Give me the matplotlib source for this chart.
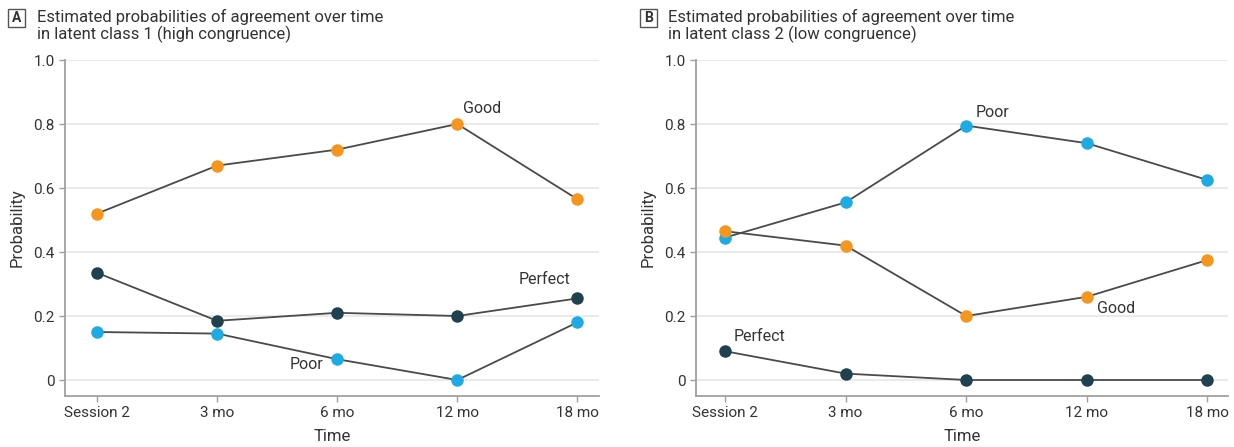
import matplotlib.pyplot as plt
from matplotlib.patches import Rectangle

plt.rcParams['font.family'] = ['Liberation Sans Narrow', 'Roboto', 'DejaVu Sans']

times = ['Session 2', '3 mo', '6 mo', '12 mo', '18 mo']

# class 1 (high congruence)
a_good = [0.52, 0.67, 0.72, 0.80, 0.565]
a_perfect = [0.335, 0.185, 0.21, 0.20, 0.255]
a_poor = [0.15, 0.145, 0.065, 0.0, 0.18]

# class 2 (low congruence)
b_poor = [0.445, 0.555, 0.795, 0.74, 0.625]
b_good = [0.465, 0.42, 0.20, 0.26, 0.375]
b_perfect = [0.09, 0.02, 0.0, 0.0, 0.0]

c_good = '#F5961F'
c_poor = '#1EAAE3'
c_perfect = '#1F4150'
line_c = '#4a4a4a'
txt_c = '#333333'

fig = plt.figure(figsize=(12.34, 4.47), dpi=100)
axA = fig.add_axes([65 / 1234, 51 / 447, 534 / 1234, 336 / 447])
axB = fig.add_axes([696 / 1234, 51 / 447, 532 / 1234, 336 / 447])

x = list(range(len(times)))


def style(ax, xlo, xhi):
    ax.set_xlim(xlo, xhi)
    ax.set_ylim(-0.05, 1.0)
    ax.set_yticks([0, 0.2, 0.4, 0.6, 0.8, 1.0])
    ax.set_yticklabels(['0', '0.2', '0.4', '0.6', '0.8', '1.0'])
    ax.set_xticks(x)
    ax.set_xticklabels(times)
    ax.grid(axis='y', color='#e6e6e6', lw=1.2)
    ax.set_axisbelow(True)
    for s in ['top', 'right']:
        ax.spines[s].set_visible(False)
    for s in ['left', 'bottom']:
        ax.spines[s].set_color('#a0a0a0')
        ax.spines[s].set_linewidth(1.3)
    ax.tick_params(colors='#a0a0a0', labelcolor=txt_c, labelsize=11, length=4, width=1)
    ax.set_xlabel('Time', fontsize=12, color=txt_c, labelpad=6)
    ax.set_ylabel('Probability', fontsize=12, color=txt_c, labelpad=6)


def series(ax, vals, color):
    ax.plot(x, vals, color=line_c, lw=1.3, zorder=2)
    ax.plot(x, vals, 'o', color=color, ms=9, mec='none', zorder=3, clip_on=False)


style(axA, -0.267, 4.18)
series(axA, a_good, c_good)
series(axA, a_perfect, c_perfect)
series(axA, a_poor, c_poor)
lab = dict(fontsize=11.5, color=txt_c)
axA.annotate('Good', (3, a_good[3]), xytext=(4, 6), textcoords='offset points', ha='left', va='bottom', **lab)
axA.annotate('Perfect', (4, a_perfect[4]), xytext=(-5, 8), textcoords='offset points', ha='right', va='bottom', **lab)
axA.annotate('Poor', (2, a_poor[2]), xytext=(-10, -4), textcoords='offset points', ha='right', va='center', **lab)

style(axB, -0.24, 4.17)
series(axB, b_poor, c_poor)
series(axB, b_good, c_good)
series(axB, b_perfect, c_perfect)
axB.annotate('Poor', (2, b_poor[2]), xytext=(7, 4), textcoords='offset points', ha='left', va='bottom', **lab)
axB.annotate('Good', (3, b_good[3]), xytext=(7, -3), textcoords='offset points', ha='left', va='top', **lab)
axB.annotate('Perfect', (0, b_perfect[0]), xytext=(6, 5), textcoords='offset points', ha='left', va='bottom', **lab)

# panel headers
for letter, bx, tx, title in [
    ('A', 8, 37, 'Estimated probabilities of agreement over time\nin latent class 1 (high congruence)'),
    ('B', 640, 668, 'Estimated probabilities of agreement over time\nin latent class 2 (low congruence)'),
]:
    fig.patches.append(Rectangle((bx / 1234, 1 - 27 / 447), 17 / 1234, 18 / 447,
                                 transform=fig.transFigure, fill=False, ec='#555555', lw=1))
    fig.text((bx + 8.5) / 1234, 1 - 18 / 447, letter, ha='center', va='center',
             fontsize=10, fontweight='bold', color=txt_c)
    fig.text(tx / 1234, 1 - 9 / 447, title, ha='left', va='top', fontsize=12,
             color=txt_c, linespacing=1.05)

fig.savefig('out.png', dpi=100)
